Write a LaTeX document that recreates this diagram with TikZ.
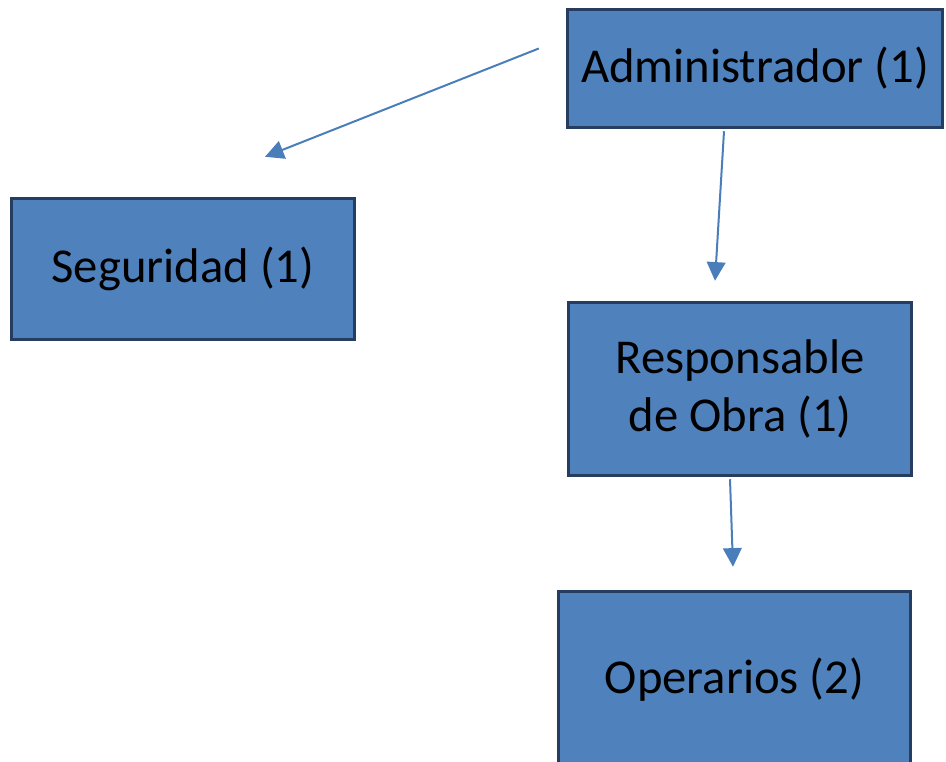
\documentclass[tikz,border=0pt]{standalone}
\usepackage{fontspec}
\setmainfont{Carlito}
\usetikzlibrary{calc}
\usetikzlibrary{positioning}
\usetikzlibrary{arrows.meta}
\definecolor{boxfill}{HTML}{4F81BD}
\definecolor{boxline}{HTML}{263D60}
\definecolor{linkcol}{HTML}{4A7EBB}

\begin{document}
\begin{tikzpicture}[x=0.75pt,y=-0.75pt,
every node/.style = {align=center},
rolebox/.style={draw=boxline,fill=boxfill,line width=2.6pt,inner sep=0pt,
    font=\fontsize{36.5}{43.5}\selectfont},
link/.style={draw=linkcol,line width=1.5pt,-{Triangle[length=14pt,width=14pt]}}]
\clip (0,0) rectangle (946,761);
\node[rolebox,minimum width=281.25pt,minimum height=88.5pt] (adm) at (755,68.5) {Administrador (1)};
\node[rolebox,minimum width=257.25pt,minimum height=105.75pt] (seg) at (183,269) {Seguridad (1)};
\node[rolebox,minimum width=257.25pt,minimum height=129.75pt] (resp) at (740,389) {Responsable\\de Obra (1)};
\node[rolebox,minimum width=264pt,minimum height=132.75pt] (oper) at (734.5,680) {Operarios (2)};
% free ends of the arrows
\coordinate (s1) at ($(adm.west)+(-27,-20)$);
\coordinate (e1) at ($(seg.north)+(82,-40)$);
\coordinate (s2) at ($(adm.south)+(-31,2)$);
\coordinate (e2) at ($(resp.north)+(-25,-20)$);
\coordinate (s3) at ($(resp.south)+(-10,2)$);
\coordinate (e3) at ($(oper.north)+(-1.5,-23)$);
\draw[link] (s1) -- (e1);
\draw[link] (s2) -- (e2);
\draw[link] (s3) -- (e3);
\end{tikzpicture}
\end{document}
